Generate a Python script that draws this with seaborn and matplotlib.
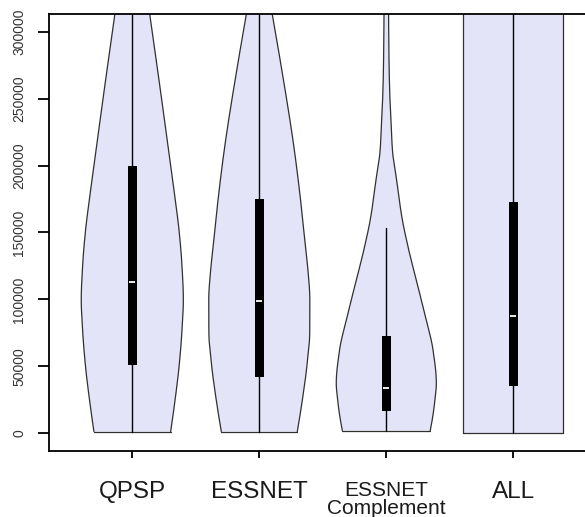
import numpy as np
import matplotlib
matplotlib.use("Agg")
import matplotlib.pyplot as plt
import seaborn as sns

# ---------------- data ----------------
categories = ["QPSP", "ESSNET", "ESSNET\nComplement", "ALL"]

# violin outline: value levels and half-widths (x units) at those levels
qpsp_levels = [1200, 25000, 49500, 75000, 100000, 124000, 150000, 174000, 199000, 249000, 312500, 335000]
qpsp_halfw = [0.302, 0.337, 0.368, 0.390, 0.402, 0.392, 0.370, 0.339, 0.303, 0.232, 0.138, 0.105]

essnet_levels = [1200, 24900, 49500, 74900, 99600, 122000, 136900, 174300, 211600, 273900, 312700, 335000]
essnet_halfw = [0.299, 0.339, 0.374, 0.397, 0.398, 0.383, 0.366, 0.325, 0.276, 0.173, 0.102, 0.063]

compl_levels = [2000, 22400, 37400, 62200, 87100, 112000, 136900, 161800, 186800, 212000, 236000, 249000, 275000, 313000, 335000]
compl_halfw = [0.346, 0.380, 0.394, 0.368, 0.308, 0.243, 0.177, 0.122, 0.085, 0.048, 0.036, 0.029, 0.022, 0.018, 0.017]

all_levels = [0, 335000]
all_halfw = [0.394, 0.394]

# box summaries
q1 = [51000, 42300, 16900, 35300]
median = [113250, 99000, 34000, 87600]
q3 = [199900, 175000, 72700, 172500]
whisker_lo = [1200, 1200, 2000, 0]
whisker_hi = [335000, 335000, 153000, 335000]

yticks = [0, 50000, 100000, 150000, 200000, 250000, 300000]

# ---------------- styling ----------------
sns.set_style("ticks")
plt.rcParams["font.family"] = ["Liberation Sans", "DejaVu Sans"]

fill_col = "#E3E4F8"
edge_col = "#303030"

fig = plt.figure(figsize=(5.85, 5.17), dpi=100)
ax = fig.add_axes([49.3 / 585, 1 - 450.7 / 517, 1 - 49.3 / 585, (450.7 - 14) / 517])

profiles = [
    (qpsp_levels, qpsp_halfw),
    (essnet_levels, essnet_halfw),
    (compl_levels, compl_halfw),
    (all_levels, all_halfw),
]


def pchip(x, y, xn):
    """Monotone piecewise cubic Hermite curve through the given outline points."""
    x = np.asarray(x, float)
    y = np.asarray(y, float)
    n = len(x)
    h = np.diff(x)
    delta = np.diff(y) / h
    d = np.zeros(n)
    if n == 2:
        d[:] = delta[0]
    else:
        for k in range(1, n - 1):
            if delta[k - 1] * delta[k] <= 0:
                d[k] = 0.0
            else:
                w1 = 2 * h[k] + h[k - 1]
                w2 = h[k] + 2 * h[k - 1]
                d[k] = (w1 + w2) / (w1 / delta[k - 1] + w2 / delta[k])
        d0 = ((2 * h[0] + h[1]) * delta[0] - h[0] * delta[1]) / (h[0] + h[1])
        if np.sign(d0) != np.sign(delta[0]):
            d0 = 0.0
        d[0] = d0
        dn = ((2 * h[-1] + h[-2]) * delta[-1] - h[-1] * delta[-2]) / (h[-1] + h[-2])
        if np.sign(dn) != np.sign(delta[-1]):
            dn = 0.0
        d[-1] = dn
    idx = np.clip(np.searchsorted(x, xn) - 1, 0, n - 2)
    t = (xn - x[idx]) / h[idx]
    h00 = 2 * t**3 - 3 * t**2 + 1
    h10 = t**3 - 2 * t**2 + t
    h01 = -2 * t**3 + 3 * t**2
    h11 = t**3 - t**2
    return h00 * y[idx] + h10 * h[idx] * d[idx] + h01 * y[idx + 1] + h11 * h[idx] * d[idx + 1]


for i, (lev, hw) in enumerate(profiles):
    x0 = i + 1
    v = np.linspace(lev[0], lev[-1], 600)
    w = pchip(lev, hw, v)
    ax.fill_betweenx(v, x0 - w, x0 + w, facecolor=fill_col, edgecolor="none", zorder=1)
    ax.plot(x0 - w, v, color=edge_col, lw=0.9, zorder=2)
    ax.plot(x0 + w, v, color=edge_col, lw=0.9, zorder=2)
    ax.plot([x0 - w[0], x0 + w[0]], [v[0], v[0]], color=edge_col, lw=0.9, zorder=2)
    # whisker
    ax.plot([x0, x0], [whisker_lo[i], whisker_hi[i]], color="black", lw=1.0, zorder=3)
    # box
    ax.bar(x0, q3[i] - q1[i], bottom=q1[i], width=0.07, color="black",
           edgecolor="black", linewidth=0, zorder=4)
    # median
    ax.plot([x0 - 0.025, x0 + 0.025], [median[i], median[i]], color="white", lw=1.3,
            zorder=5, solid_capstyle="butt")

ax.set_xlim(0.3465, 4.5646)
ax.set_ylim(-13000, 313200)

ax.set_xticks([1, 2, 3, 4])
ax.set_xticklabels(categories)
ax.set_yticks(yticks)
ax.set_yticklabels([str(t) for t in yticks])

ax.tick_params(axis="y", length=8, width=1.3, pad=8.5, labelsize=10, labelcolor="#333333",
               color="black")
ax.tick_params(axis="x", length=5.3, width=1.3, pad=16.5, labelsize=17.5, labelcolor="#1a1a1a",
               color="black")
for lbl in ax.get_yticklabels():
    lbl.set_rotation(90)
    lbl.set_va("center")
xl = ax.get_xticklabels()
xl[2].set_fontsize(15)
xl[2].set_linespacing(0.95)

for s in ["left", "bottom", "top"]:
    ax.spines[s].set_linewidth(1.3)
    ax.spines[s].set_color("black")
ax.spines["right"].set_visible(False)

ax.set_xlabel("")
ax.set_ylabel("")

fig.savefig("out.png", dpi=100)
